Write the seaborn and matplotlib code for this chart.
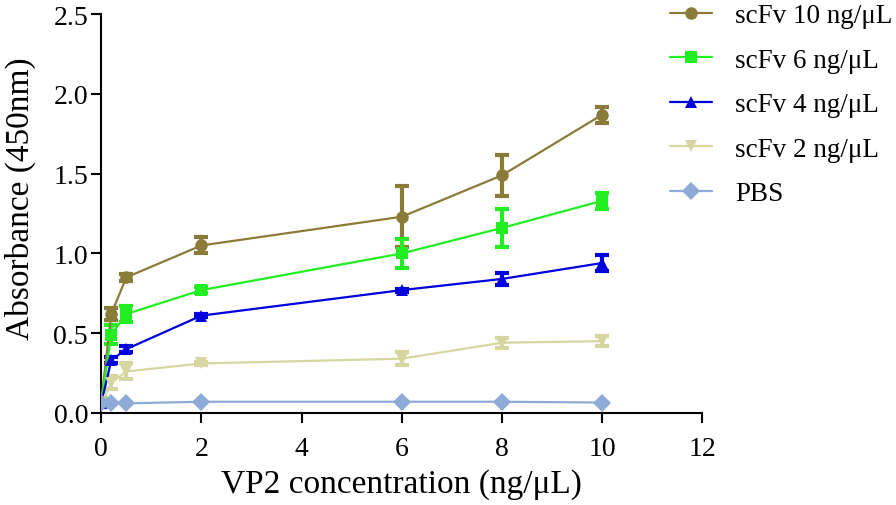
"""ELISA absorbance vs VP2 concentration"""
import numpy as np
import pandas as pd
import matplotlib
matplotlib.use('Agg')
import matplotlib.pyplot as plt
import seaborn as sns

# VP2 concentration (ng/uL)
vp2_conc = [0, 0.2, 0.5, 2, 6, 8, 10]

series_names = ['scFv 10 ng/\u03bcL', 'scFv 6 ng/\u03bcL', 'scFv 4 ng/\u03bcL',
                'scFv 2 ng/\u03bcL', 'PBS']

scfv10_mean = [0.07, 0.62, 0.85, 1.05, 1.23, 1.49, 1.87]
scfv10_err = [0.02, 0.04, 0.02, 0.05, 0.19, 0.13, 0.05]

scfv6_mean = [0.07, 0.49, 0.62, 0.77, 1.00, 1.16, 1.33]
scfv6_err = [0.02, 0.06, 0.05, 0.02, 0.09, 0.12, 0.05]

scfv4_mean = [0.06, 0.33, 0.40, 0.61, 0.77, 0.84, 0.94]
scfv4_err = [0.02, 0.02, 0.02, 0.01, 0.01, 0.04, 0.05]

scfv2_mean = [0.06, 0.19, 0.26, 0.31, 0.34, 0.44, 0.45]
scfv2_err = [0.02, 0.04, 0.05, 0.01, 0.04, 0.03, 0.03]

pbs_mean = [0.06, 0.06, 0.06, 0.07, 0.07, 0.07, 0.065]
pbs_err = [0.01, 0.0, 0.0, 0.0, 0.0, 0.0, 0.0]

colors = ['#8B7B38', '#22EE22', '#0000DD', '#D6D6A0', '#8EAAD6']
markers = ['o', 's', '^', 'v', 'D']

means = [scfv10_mean, scfv6_mean, scfv4_mean, scfv2_mean, pbs_mean]
errs = [scfv10_err, scfv6_err, scfv4_err, scfv2_err, pbs_err]

rows = []
for name, m, e in zip(series_names, means, errs):
    for x, y, s in zip(vp2_conc, m, e):
        rows.append({'conc': x, 'absorbance': y, 'err': s, 'group': name})
df = pd.DataFrame(rows)

sns.set_style('ticks', {'axes.edgecolor': 'black', 'xtick.color': 'black',
                        'ytick.color': 'black', 'text.color': 'black',
                        'axes.labelcolor': 'black'})
plt.rcParams['font.family'] = ['Liberation Serif', 'DejaVu Serif']

fig = plt.figure(figsize=(8.96, 5.06), dpi=100)
ax = fig.add_axes([0.113, 0.182, 0.671, 0.788])

# error bars first so markers sit on top
for name, c in zip(series_names, colors):
    sub = df[df['group'] == name]
    ax.errorbar(sub['conc'], sub['absorbance'], yerr=sub['err'], fmt='none',
                ecolor=c, elinewidth=3, capsize=5, capthick=3, zorder=2)

sns.lineplot(data=df, x='conc', y='absorbance', hue='group', style='group',
             hue_order=series_names, style_order=series_names,
             palette=dict(zip(series_names, colors)),
             markers=dict(zip(series_names, markers)), dashes=False,
             markeredgewidth=0, linewidth=1.6, markersize=9, ax=ax, zorder=3)

ax.set_xlim(0, 12)
ax.set_ylim(0, 2.5)
ax.set_xticks(np.arange(0, 13, 2))
ax.set_yticks(np.arange(0, 2.51, 0.5))
ax.set_yticklabels([f'{v:.1f}' for v in np.arange(0, 2.51, 0.5)])
ax.set_xlabel('VP2 concentration (ng/\u03bcL)', fontsize=24, labelpad=5)
ax.set_ylabel('Absorbance (450nm)', fontsize=24)
ax.yaxis.set_label_coords(-0.108, 0.54)
ax.tick_params(labelsize=20, width=1.5, length=7.5, direction='out',
               colors='black')
ax.tick_params(axis='x', pad=9)
ax.tick_params(axis='y', pad=2)
for side in ['left', 'bottom']:
    ax.spines[side].set_linewidth(1.5)
    ax.spines[side].set_color('black')
sns.despine(ax=ax)

handles, labels = ax.get_legend_handles_labels()
ax.get_legend().remove()
fig.legend(handles, labels, loc='upper left', bbox_to_anchor=(0.745, 0.997),
           frameon=False, fontsize=19.5, handlelength=1.55, labelspacing=0.72,
           handletextpad=0.85, borderpad=0.1, borderaxespad=0)

fig.savefig('out.png', dpi=100)
